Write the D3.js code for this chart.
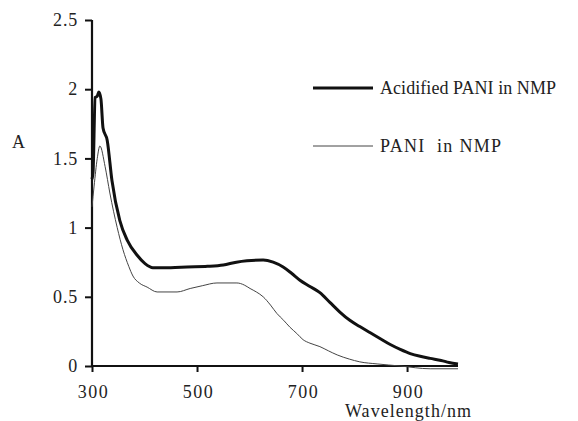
<!DOCTYPE html>
<html>
<head>
<meta charset="utf-8">
<script src="https://cdn.jsdelivr.net/npm/d3@7/dist/d3.min.js"></script>
<style>
  body { margin: 0; background: #fff; }
</style>
</head>
<body>
<svg id="chart" width="578" height="421"></svg>
<script>
// wavelength (nm) / absorbance
const acidWave = [300, 302, 306, 310, 313, 317, 321, 329, 338, 353, 367, 386, 401, 416, 450, 481, 520, 550, 575, 595, 626, 645, 664, 680, 696, 715, 734, 753, 772, 791, 810, 830, 850, 868, 887, 906, 925, 944, 965, 980, 997];
const acidAbs  = [1.35, 1.40, 1.94, 1.95, 1.98, 1.93, 1.72, 1.63, 1.34, 1.05, 0.91, 0.80, 0.74, 0.71, 0.71, 0.715, 0.72, 0.73, 0.75, 0.76, 0.766, 0.75, 0.715, 0.67, 0.62, 0.575, 0.53, 0.46, 0.39, 0.33, 0.285, 0.24, 0.195, 0.155, 0.12, 0.09, 0.07, 0.055, 0.04, 0.025, 0.015];

const paniWave = [300, 304, 310, 315, 325, 334, 348, 359, 370, 378, 390, 405, 424, 462, 487, 510, 538, 576, 590, 601, 613, 626, 640, 652, 665, 677, 690, 702, 715, 734, 750, 767, 790, 810, 843, 887, 944, 997];
const paniAbs  = [1.15, 1.30, 1.50, 1.59, 1.44, 1.25, 1.00, 0.84, 0.72, 0.65, 0.60, 0.57, 0.535, 0.535, 0.56, 0.58, 0.60, 0.60, 0.585, 0.56, 0.535, 0.50, 0.44, 0.38, 0.33, 0.28, 0.235, 0.19, 0.165, 0.14, 0.11, 0.08, 0.05, 0.03, 0.015, 0.0, -0.02, -0.02];

const xTicks = [300, 500, 700, 900];
const yTicks = [0, 0.5, 1, 1.5, 2, 2.5];
const seriesNames = ["Acidified PANI in NMP", "PANI  in NMP"];

const FONT = "Liberation Serif";
const svg = d3.select("#chart");

const x = d3.scaleLinear().domain([300, 997]).range([92, 458]);
const y = d3.scaleLinear().domain([0, 2.5]).range([366, 20]);

// y axis
const yAxis = svg.append("g")
  .attr("transform", "translate(92,0)")
  .call(d3.axisLeft(y).tickValues(yTicks).tickSize(7).tickPadding(7)
    .tickFormat(d => d));
yAxis.select(".domain").attr("d", "M0," + y(2.5) + "V" + y(0)).attr("stroke", "#111").attr("stroke-width", 2.2);
yAxis.selectAll(".tick line").attr("stroke", "#111").attr("stroke-width", 2);
yAxis.selectAll(".tick text").attr("font-family", FONT).attr("font-size", 18)
  .attr("letter-spacing", 0.8).attr("fill", "#222");

// x axis
const xAxis = svg.append("g")
  .attr("transform", "translate(0,366)")
  .call(d3.axisBottom(x).tickValues(xTicks).tickSize(6).tickPadding(13));
xAxis.select(".domain").attr("d", "M" + x(300) + ",0H" + x(997)).attr("stroke", "#111").attr("stroke-width", 2.2);
xAxis.selectAll(".tick line").attr("stroke", "#111").attr("stroke-width", 2);
xAxis.selectAll(".tick text").attr("font-family", FONT).attr("font-size", 18)
  .attr("letter-spacing", 1.5).attr("dx", 1).attr("fill", "#222");

// axis titles
svg.append("text").attr("x", 12).attr("y", 148)
  .attr("font-family", FONT).attr("font-size", 18).attr("fill", "#222").text("A");
svg.append("text").attr("x", 345).attr("y", 417)
  .attr("font-family", FONT).attr("font-size", 18).attr("fill", "#222")
  .attr("textLength", 126).attr("lengthAdjust", "spacing").text("Wavelength/nm");

const line = d3.line().x(d => x(d[0])).y(d => y(d[1])).curve(d3.curveMonotoneX);

svg.append("path")
  .datum(d3.zip(paniWave, paniAbs))
  .attr("fill", "none").attr("stroke", "#444").attr("stroke-width", 1)
  .attr("d", line);

svg.append("path")
  .datum(d3.zip(acidWave, acidAbs))
  .attr("fill", "none").attr("stroke", "#111").attr("stroke-width", 3)
  .attr("stroke-linejoin", "round")
  .attr("d", line);

// legend
const legend = svg.append("g");
legend.append("line").attr("x1", 313).attr("x2", 373).attr("y1", 88).attr("y2", 88)
  .attr("stroke", "#111").attr("stroke-width", 3);
legend.append("text").attr("x", 380).attr("y", 94)
  .attr("font-family", FONT).attr("font-size", 18).attr("fill", "#222")
  .attr("textLength", 176).attr("lengthAdjust", "spacing")
  .style("white-space", "pre").text(seriesNames[0]);
legend.append("line").attr("x1", 313).attr("x2", 373).attr("y1", 146).attr("y2", 146)
  .attr("stroke", "#444").attr("stroke-width", 1);
legend.append("text").attr("x", 380).attr("y", 152)
  .attr("font-family", FONT).attr("font-size", 18).attr("fill", "#222")
  .attr("textLength", 121).attr("lengthAdjust", "spacing")
  .style("white-space", "pre").text(seriesNames[1]);
</script>
</body>
</html>
